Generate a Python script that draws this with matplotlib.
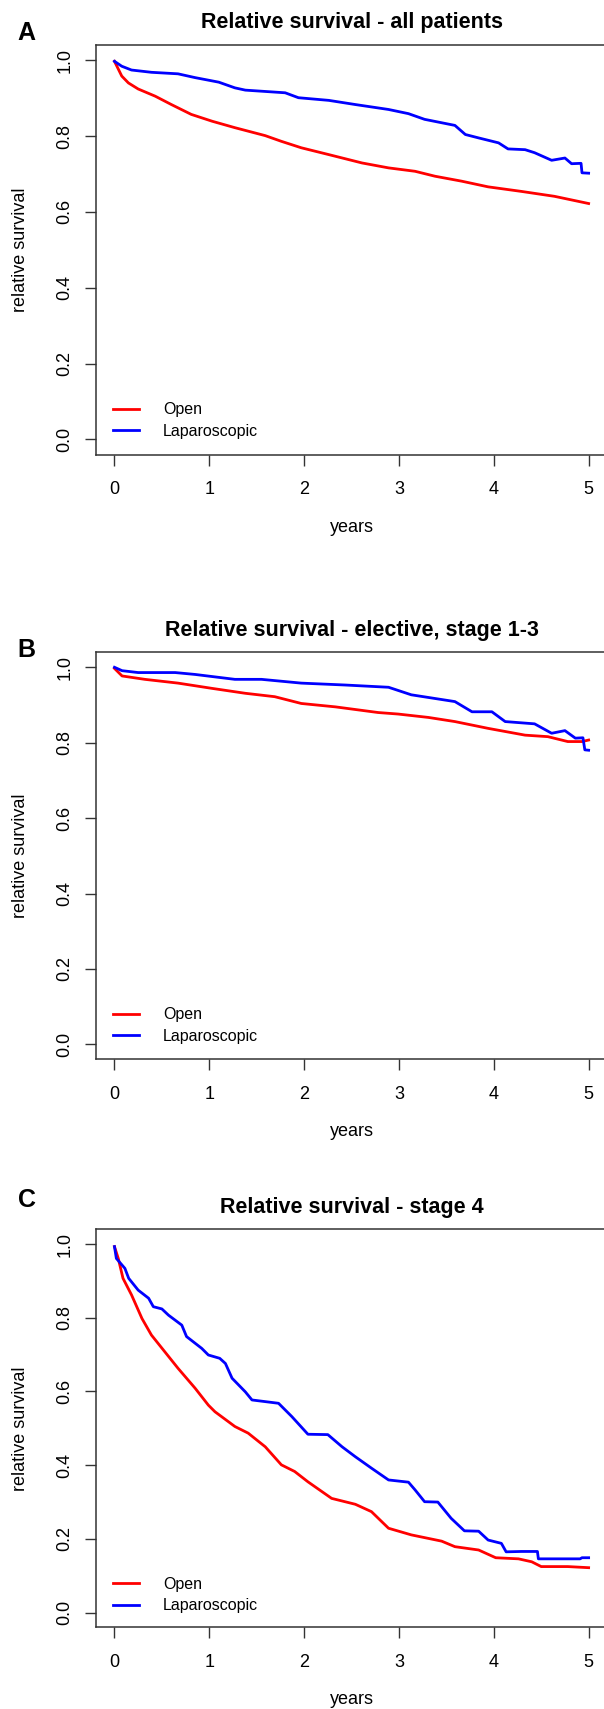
import matplotlib
matplotlib.use("Agg")
import matplotlib.pyplot as plt

plt.rcParams['font.family'] = ['Liberation Sans', 'DejaVu Sans']

# A - all patients
t_a_open = [0, 0.077, 0.147, 0.25, 0.43, 0.60, 0.81, 1.03, 1.27, 1.59, 1.76, 1.97, 2.26, 2.61, 2.89, 3.17,
            3.38, 3.66, 3.94, 4.29, 4.64, 5.0]
s_a_open = [0.997, 0.958, 0.940, 0.924, 0.905, 0.883, 0.857, 0.839, 0.822, 0.801, 0.786, 0.769, 0.751, 0.729,
            0.716, 0.707, 0.694, 0.681, 0.666, 0.654, 0.641, 0.622]
t_a_lap = [0, 0.077, 0.18, 0.39, 0.67, 0.85, 1.1, 1.27, 1.38, 1.80, 1.94, 2.26, 2.54, 2.89, 3.10, 3.27, 3.59,
           3.70, 3.84, 4.05, 4.15, 4.33, 4.43, 4.61, 4.75, 4.82, 4.92, 4.93, 5.0]
s_a_lap = [0.997, 0.984, 0.974, 0.968, 0.964, 0.954, 0.942, 0.927, 0.921, 0.914, 0.901, 0.894, 0.883, 0.870,
           0.859, 0.844, 0.828, 0.804, 0.795, 0.782, 0.766, 0.764, 0.756, 0.736, 0.742, 0.727, 0.728, 0.703, 0.702]

# B - elective, stage 1-3
t_b_open = [0, 0.08, 0.32, 0.67, 1.03, 1.38, 1.69, 1.97, 2.33, 2.78, 2.99, 3.31, 3.59, 3.94, 4.33, 4.57, 4.78,
            4.93, 5.0]
s_b_open = [0.997, 0.977, 0.968, 0.958, 0.944, 0.931, 0.922, 0.904, 0.895, 0.880, 0.876, 0.867, 0.856, 0.838,
            0.820, 0.816, 0.803, 0.803, 0.807]
t_b_lap = [0, 0.08, 0.25, 0.64, 0.85, 1.27, 1.55, 1.97, 2.43, 2.89, 3.13, 3.59, 3.77, 3.98, 4.12, 4.43, 4.61,
           4.75, 4.86, 4.94, 4.96, 5.0]
s_b_lap = [1.0, 0.991, 0.986, 0.986, 0.981, 0.968, 0.968, 0.958, 0.953, 0.947, 0.927, 0.909, 0.882, 0.882,
           0.856, 0.850, 0.825, 0.832, 0.812, 0.813, 0.781, 0.780]

# C - stage 4
t_c_open = [0, 0.04, 0.09, 0.18, 0.29, 0.39, 0.53, 0.67, 0.85, 0.99, 1.06, 1.27, 1.41, 1.59, 1.76, 1.90, 2.04,
            2.29, 2.54, 2.71, 2.89, 3.13, 3.45, 3.59, 3.84, 4.02, 4.26, 4.40, 4.50, 4.78, 5.0]
s_c_open = [0.993, 0.961, 0.907, 0.862, 0.798, 0.753, 0.708, 0.663, 0.609, 0.563, 0.545, 0.505, 0.487, 0.450,
            0.401, 0.383, 0.355, 0.310, 0.294, 0.274, 0.229, 0.211, 0.194, 0.179, 0.170, 0.149, 0.146, 0.138,
            0.125, 0.125, 0.122]
t_c_lap = [0, 0.02, 0.11, 0.15, 0.25, 0.36, 0.41, 0.5, 0.57, 0.71, 0.76, 0.92, 0.99, 1.11, 1.17, 1.24, 1.38,
           1.45, 1.73, 1.87, 2.04, 2.25, 2.40, 2.54, 2.71, 2.89, 3.10, 3.17, 3.27, 3.41, 3.55, 3.69, 3.84, 3.94,
           4.08, 4.13, 4.29, 4.46, 4.47, 4.91, 4.93, 5.0]
s_c_lap = [0.993, 0.961, 0.934, 0.907, 0.875, 0.853, 0.830, 0.824, 0.807, 0.780, 0.749, 0.717, 0.699, 0.690,
           0.676, 0.636, 0.599, 0.577, 0.568, 0.532, 0.484, 0.483, 0.450, 0.423, 0.392, 0.360, 0.354, 0.333,
           0.301, 0.300, 0.256, 0.222, 0.221, 0.197, 0.188, 0.165, 0.166, 0.166, 0.146, 0.146, 0.149, 0.149]

titles = ["Relative survival - all patients", "Relative survival - elective, stage 1-3",
          "Relative survival - stage 4"]
letters = ["A", "B", "C"]

W, H = 604, 1709
fig = plt.figure(figsize=(W / 100, H / 100), dpi=100)

# axes boxes in pixels: (left, top, right, bottom)
boxes = [(95.5, 45, 607.6, 454.6), (95.5, 652.2, 607.6, 1059.4), (95.5, 1229.3, 607.6, 1627.4)]
letter_y = [33.3, 650, 1200]
data = [(t_a_open, s_a_open, t_a_lap, s_a_lap),
        (t_b_open, s_b_open, t_b_lap, s_b_lap),
        (t_c_open, s_c_open, t_c_lap, s_c_lap)]

for i in range(3):
    l, t, r, b = boxes[i]
    ax = fig.add_axes([l / W, 1 - b / H, (r - l) / W, (b - t) / H])
    to, so, tl, sl = data[i]
    ax.plot(to, so, color="#ff0000", lw=2, label="Open")
    ax.plot(tl, sl, color="#0000ff", lw=2, label="Laparoscopic")
    ax.set_xlim(-0.2, 5.2)
    ax.set_ylim(-0.04, 1.04)
    ax.set_xticks([0, 1, 2, 3, 4, 5])
    ax.set_yticks([0, 0.2, 0.4, 0.6, 0.8, 1.0])
    ax.set_yticklabels(["0.0", "0.2", "0.4", "0.6", "0.8", "1.0"])
    for sp in ax.spines.values():
        sp.set_color("#333333")
        sp.set_linewidth(1.1)
    ax.tick_params(axis="both", length=7.8, width=1.0, color="#333333", labelsize=13)
    ax.tick_params(axis="x", pad=11)
    ax.tick_params(axis="y", pad=8, labelrotation=90)
    for lbl in ax.get_yticklabels():
        lbl.set_va("center")
    ax.set_title(titles[i], fontsize=15.5, fontweight="bold", pad=12)
    ax.set_xlabel("years", fontsize=13, labelpad=15)
    ax.set_ylabel("relative survival", fontsize=13)
    ax.yaxis.set_label_coords((28.8 - l) / (r - l), 0.5)
    ax.legend(loc="upper left", bbox_to_anchor=(-0.015, 0.098), bbox_transform=ax.transData,
              frameon=False, fontsize=11.5, handlelength=1.64, handletextpad=1.48,
              labelspacing=0.42, borderpad=0, borderaxespad=0)
    fig.text(26.7 / W, 1 - letter_y[i] / H, letters[i], fontsize=18, fontweight="bold",
             ha="center", va="center")

fig.savefig("out.png", dpi=100)
